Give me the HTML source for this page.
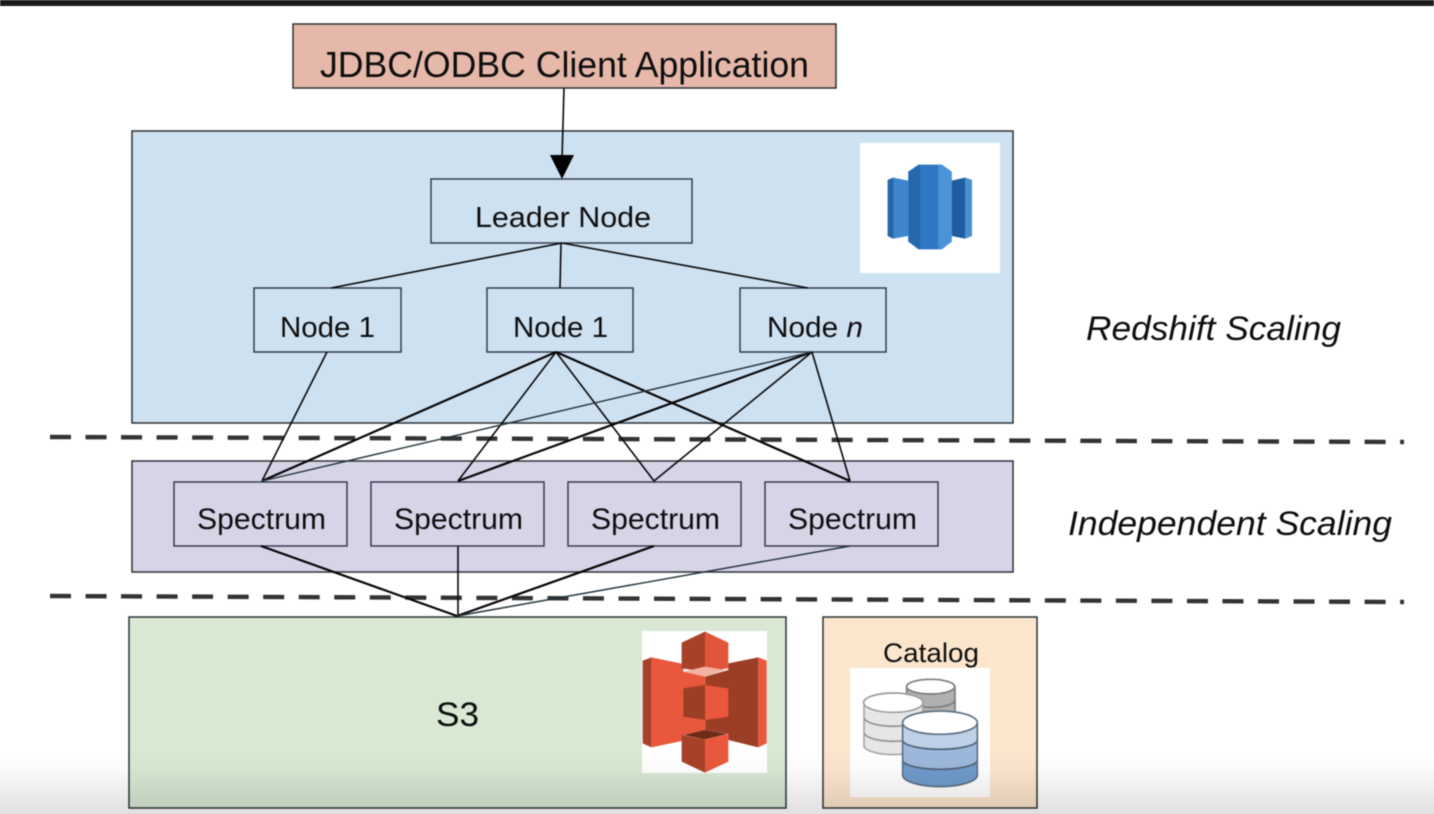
<!DOCTYPE html>
<html><head><meta charset="utf-8"><style>
html,body{margin:0;padding:0;background:#fff;width:1434px;height:814px;overflow:hidden}
svg{display:block;position:absolute;left:0;top:0;filter:blur(.55px)}
text{font-family:"Liberation Sans",sans-serif;fill:#0e0e0e}
.ic{filter:blur(.8px)}
#fade{position:absolute;left:0;top:750px;width:1434px;height:64px;background:linear-gradient(rgba(0,0,0,0),rgba(0,0,0,.02) 30%,rgba(0,0,0,.07) 65%,rgba(0,0,0,.12))}
</style></head><body>
<svg width="1434" height="814" viewBox="0 0 1434 814" xmlns="http://www.w3.org/2000/svg">
<rect x="0" y="0" width="1434" height="6" fill="#1a1a1a"/>
<g stroke="#2c3236" stroke-width="1.5">
<rect x="293" y="24" width="543" height="64" fill="#e6b8aa"/>
<rect x="132" y="131" width="881" height="292" fill="#cee1f1"/>
<rect x="132" y="461" width="881" height="111" fill="#d8d4e8"/>
<rect x="129" y="617" width="657" height="191" fill="#d8e8d3"/>
<rect x="823" y="617" width="214" height="191" fill="#fce5cd"/>
</g>
<rect x="860" y="143" width="140" height="130" fill="#fff"/>
<rect x="642" y="631" width="125" height="142" fill="#fff"/>
<rect x="850" y="668" width="140" height="129" fill="#fff"/>
<g fill="none" stroke="#2d3248" stroke-width="1.4">
<rect x="431" y="179" width="261" height="64"/>
<rect x="254" y="288" width="147" height="64"/>
<rect x="487" y="288" width="146" height="64"/>
<rect x="740" y="288" width="146" height="64"/>
<rect x="174" y="482" width="173" height="64"/>
<rect x="371" y="482" width="173" height="64"/>
<rect x="568" y="482" width="173" height="64"/>
<rect x="765" y="482" width="173" height="64"/>
</g>
<g stroke="#222" stroke-width="4.4" stroke-dasharray="21 14.53" fill="none" opacity=".92">
<line x1="50" y1="437" x2="1404" y2="442"/>
<line x1="50" y1="596" x2="1404" y2="602"/>
</g>
<g stroke="#080808" stroke-width="1.6" fill="none">
<line x1="564" y1="88" x2="562" y2="160"/>
<line x1="562" y1="243" x2="331" y2="288"/>
<line x1="561" y1="243" x2="560" y2="288"/>
<line x1="562" y1="243" x2="808" y2="288"/>
<line x1="327" y1="352" x2="262" y2="481"/>
<line x1="556" y1="352" x2="458" y2="481"/>
<line x1="556" y1="352" x2="654" y2="481"/>
<line x1="812" y1="352" x2="654" y2="481"/>
<line x1="812" y1="352" x2="850" y2="481"/>
<line x1="458" y1="546" x2="458" y2="616"/>
</g>
<g stroke="#050505" stroke-width="2.2" fill="none">
<line x1="556" y1="352" x2="262" y2="481"/>
<line x1="556" y1="352" x2="850" y2="481"/>
<line x1="812" y1="352" x2="458" y2="481"/>
<line x1="261" y1="546" x2="457" y2="616"/>
<line x1="654" y1="546" x2="457" y2="616"/>
</g>
<g stroke="#22323a" stroke-width="1.4" fill="none">
<line x1="812" y1="352" x2="262" y2="481"/>
<line x1="850" y1="546" x2="457" y2="616"/>
</g>
<polygon points="550,155 574,155 562,179" fill="#000"/>

<text x="320" y="77" font-size="36" textLength="489" lengthAdjust="spacingAndGlyphs">JDBC/ODBC Client Application</text>
<text x="475" y="227" font-size="29" textLength="176" lengthAdjust="spacingAndGlyphs">Leader Node</text>
<text x="280" y="337" font-size="29" textLength="95" lengthAdjust="spacingAndGlyphs">Node 1</text>
<text x="513" y="337" font-size="29" textLength="95" lengthAdjust="spacingAndGlyphs">Node 1</text>
<text x="767" y="337" font-size="29" textLength="96" lengthAdjust="spacingAndGlyphs">Node <tspan font-style="italic">n</tspan></text>
<text x="197" y="529" font-size="30" textLength="129" lengthAdjust="spacingAndGlyphs">Spectrum</text>
<text x="394" y="529" font-size="30" textLength="129" lengthAdjust="spacingAndGlyphs">Spectrum</text>
<text x="591" y="529" font-size="30" textLength="129" lengthAdjust="spacingAndGlyphs">Spectrum</text>
<text x="788" y="529" font-size="30" textLength="129" lengthAdjust="spacingAndGlyphs">Spectrum</text>
<text x="1086" y="340" font-size="34.5" font-style="italic" textLength="255" lengthAdjust="spacingAndGlyphs">Redshift Scaling</text>
<text x="1068" y="535" font-size="34.5" font-style="italic" textLength="324" lengthAdjust="spacingAndGlyphs">Independent Scaling</text>
<text x="436" y="726" font-size="34" textLength="43" lengthAdjust="spacingAndGlyphs">S3</text>
<text x="883" y="662" font-size="27" textLength="96" lengthAdjust="spacingAndGlyphs">Catalog</text>

<!-- Redshift icon -->
<g class="ic" transform="translate(850,130) scale(.3333)">
<polygon points="113,150 130,143 175,152 175,318 130,326 113,318" fill="#3f87cc"/>
<polygon points="113,150 130,143 130,326 113,318" fill="#2565a8"/>
<polygon points="305,152 345,143 366,150 366,318 345,326 305,318" fill="#1f5c9f"/>
<polygon points="345,143 366,150 366,318 345,326" fill="#4a8fd2"/>
<polygon points="175,125 205,104 275,104 305,125 305,335 275,358 205,358 175,335" fill="#2f78c2"/>
<polygon points="175,125 210,106 210,358 175,335" fill="#2468ad"/>
<polygon points="265,106 275,104 305,125 305,335 275,358 265,358" fill="#4b92d6"/>
</g>
<!-- S3 icon -->
<g class="ic" transform="translate(630,620) scale(.3333)">
<polygon points="38,122 65,112 65,382 38,370" fill="#a8412a"/>
<polygon points="65,112 160,132 160,155 226,170 226,330 160,345 160,362 65,382" fill="#e9583c"/>
<polygon points="295,130 385,112 385,382 295,360 295,342 226,330 226,170 295,150" fill="#9c3d26"/>
<polygon points="385,112 410,122 410,370 385,382" fill="#e9583c"/>
<polygon points="155,68 225,35 225,155 155,145" fill="#a8412a"/>
<polygon points="225,35 295,68 295,145 225,155" fill="#e2553a"/>
<polygon points="160,155 225,140 285,150 225,170" fill="#f2b3a1"/>
<polygon points="160,205 225,195 225,300 160,290" fill="#9c3d26"/>
<polygon points="225,195 295,205 295,290 225,300" fill="#e9583c"/>
<polygon points="160,345 225,330 292,342 225,358" fill="#6f2a1a"/>
<polygon points="155,345 225,358 225,458 155,425" fill="#a8412a"/>
<polygon points="225,358 295,342 295,425 225,458" fill="#e9583c"/>
</g>
<!-- Catalog icon -->
<g class="ic" transform="translate(820,610) scale(.3333)" stroke="#7c7c7c" stroke-width="5">
<path d="M260 230V310A72 22 0 0 0 405 310V230Z" fill="#b0b0b0"/>
<path d="M260 270A72 22 0 0 0 405 270" fill="none"/>
<ellipse cx="332" cy="230" rx="72" ry="22" fill="#fff"/>
<path d="M132 280V410A89 28 0 0 0 308 410V280Z" fill="#e6e6e6" stroke="#a8a8a8"/>
<path d="M132 325A89 28 0 0 0 308 325M132 370A89 28 0 0 0 308 370" fill="none" stroke="#8f8f8f"/>
<ellipse cx="220" cy="278" rx="89" ry="29" fill="#fff" stroke="#9c9c9c"/>
<path d="M248 340V495A112 35 0 0 0 472 495V340Z" fill="#6f9bcb" stroke="none"/>
<path d="M248 390V450A112 28 0 0 0 472 450V390Z" fill="#9db8dc" stroke="none"/>
<path d="M248 340V390A112 28 0 0 0 472 390V340Z" fill="#bfd1e7" stroke="none"/>
<path d="M248 390A112 28 0 0 0 472 390M248 450A112 28 0 0 0 472 450" fill="none" stroke="#4f6076"/>
<path d="M248 340V495A112 35 0 0 0 472 495V340" fill="none" stroke="#5d7086"/>
<ellipse cx="360" cy="338" rx="112" ry="35" fill="#fff" stroke="#5d7086"/>
</g>
</svg>
<div id="fade"></div>
</body></html>
